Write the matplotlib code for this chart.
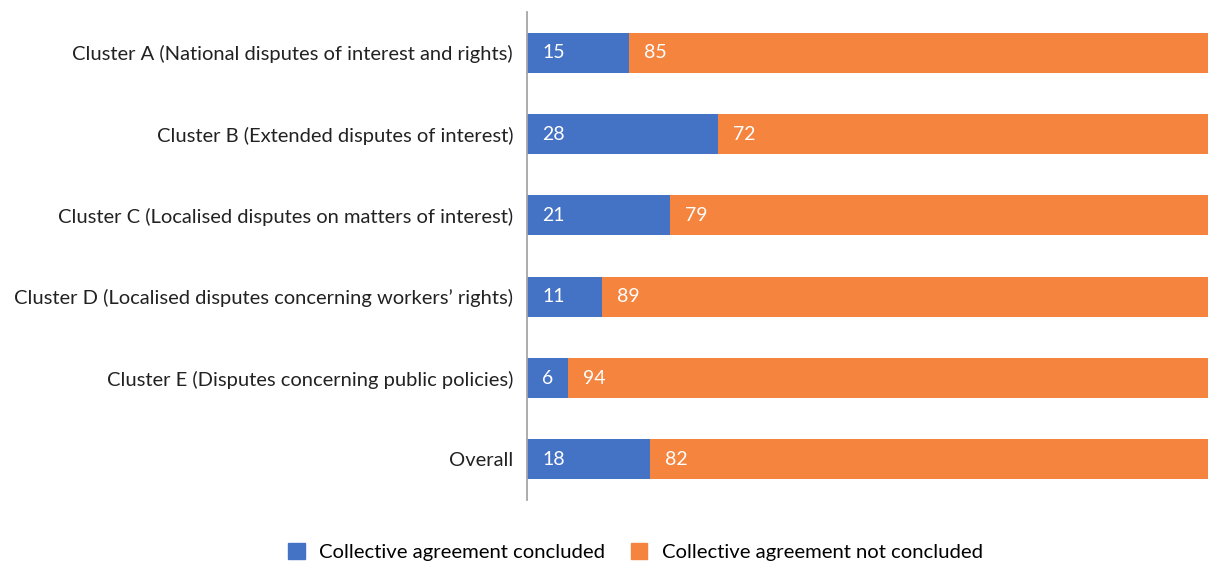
import matplotlib
matplotlib.use("Agg")
import matplotlib.pyplot as plt
from matplotlib.patches import Patch

categories = [
    "Cluster A (National disputes of interest and rights)",
    "Cluster B (Extended disputes of interest)",
    "Cluster C (Localised disputes on matters of interest)",
    "Cluster D (Localised disputes concerning workers\u2019 rights)",
    "Cluster E (Disputes concerning public policies)",
    "Overall",
]
concluded = [15, 28, 21, 11, 6, 18]
not_concluded = [85, 72, 79, 89, 94, 82]
series_names = ["Collective agreement concluded", "Collective agreement not concluded"]

BLUE = "#4472C4"
ORANGE = "#F4843E"
FONT = "Lato"

plt.rcParams["font.family"] = [FONT, "DejaVu Sans"]

fig = plt.figure(figsize=(12.08, 5.61), dpi=100)
ax = fig.add_axes([527 / 1208, 61 / 561, 1 - 527 / 1208, 488 / 561])

y = list(range(len(categories)))
ax.barh(y, concluded, height=0.49, color=BLUE)
ax.barh(y, not_concluded, left=concluded, height=0.49, color=ORANGE)

for yi, c, n in zip(y, concluded, not_concluded):
    ax.text(2.2, yi, str(c), color="white", va="center", ha="left", fontsize=14)
    ax.text(c + 2.2, yi, str(n), color="white", va="center", ha="left", fontsize=14)

ax.set_xlim(0, 100)
ax.set_ylim(len(categories) - 0.5, -0.5)
ax.set_yticks(y)
ax.set_yticklabels(categories, fontsize=14.5, color="#222222")
ax.tick_params(axis="y", length=0, pad=10)
ax.set_xticks([])
for side in ["top", "right", "bottom"]:
    ax.spines[side].set_visible(False)
ax.spines["left"].set_color("#A6A6A6")
ax.spines["left"].set_linewidth(1.3)

handles = [Patch(color=BLUE), Patch(color=ORANGE)]
fig.legend(handles, series_names, loc="center", bbox_to_anchor=(0.526, 0.016),
           ncol=2, frameon=False, fontsize=14.6, handlelength=0.8, handleheight=0.8,
           columnspacing=1.3, handletextpad=0.7)

fig.savefig("out.png", dpi=100)
